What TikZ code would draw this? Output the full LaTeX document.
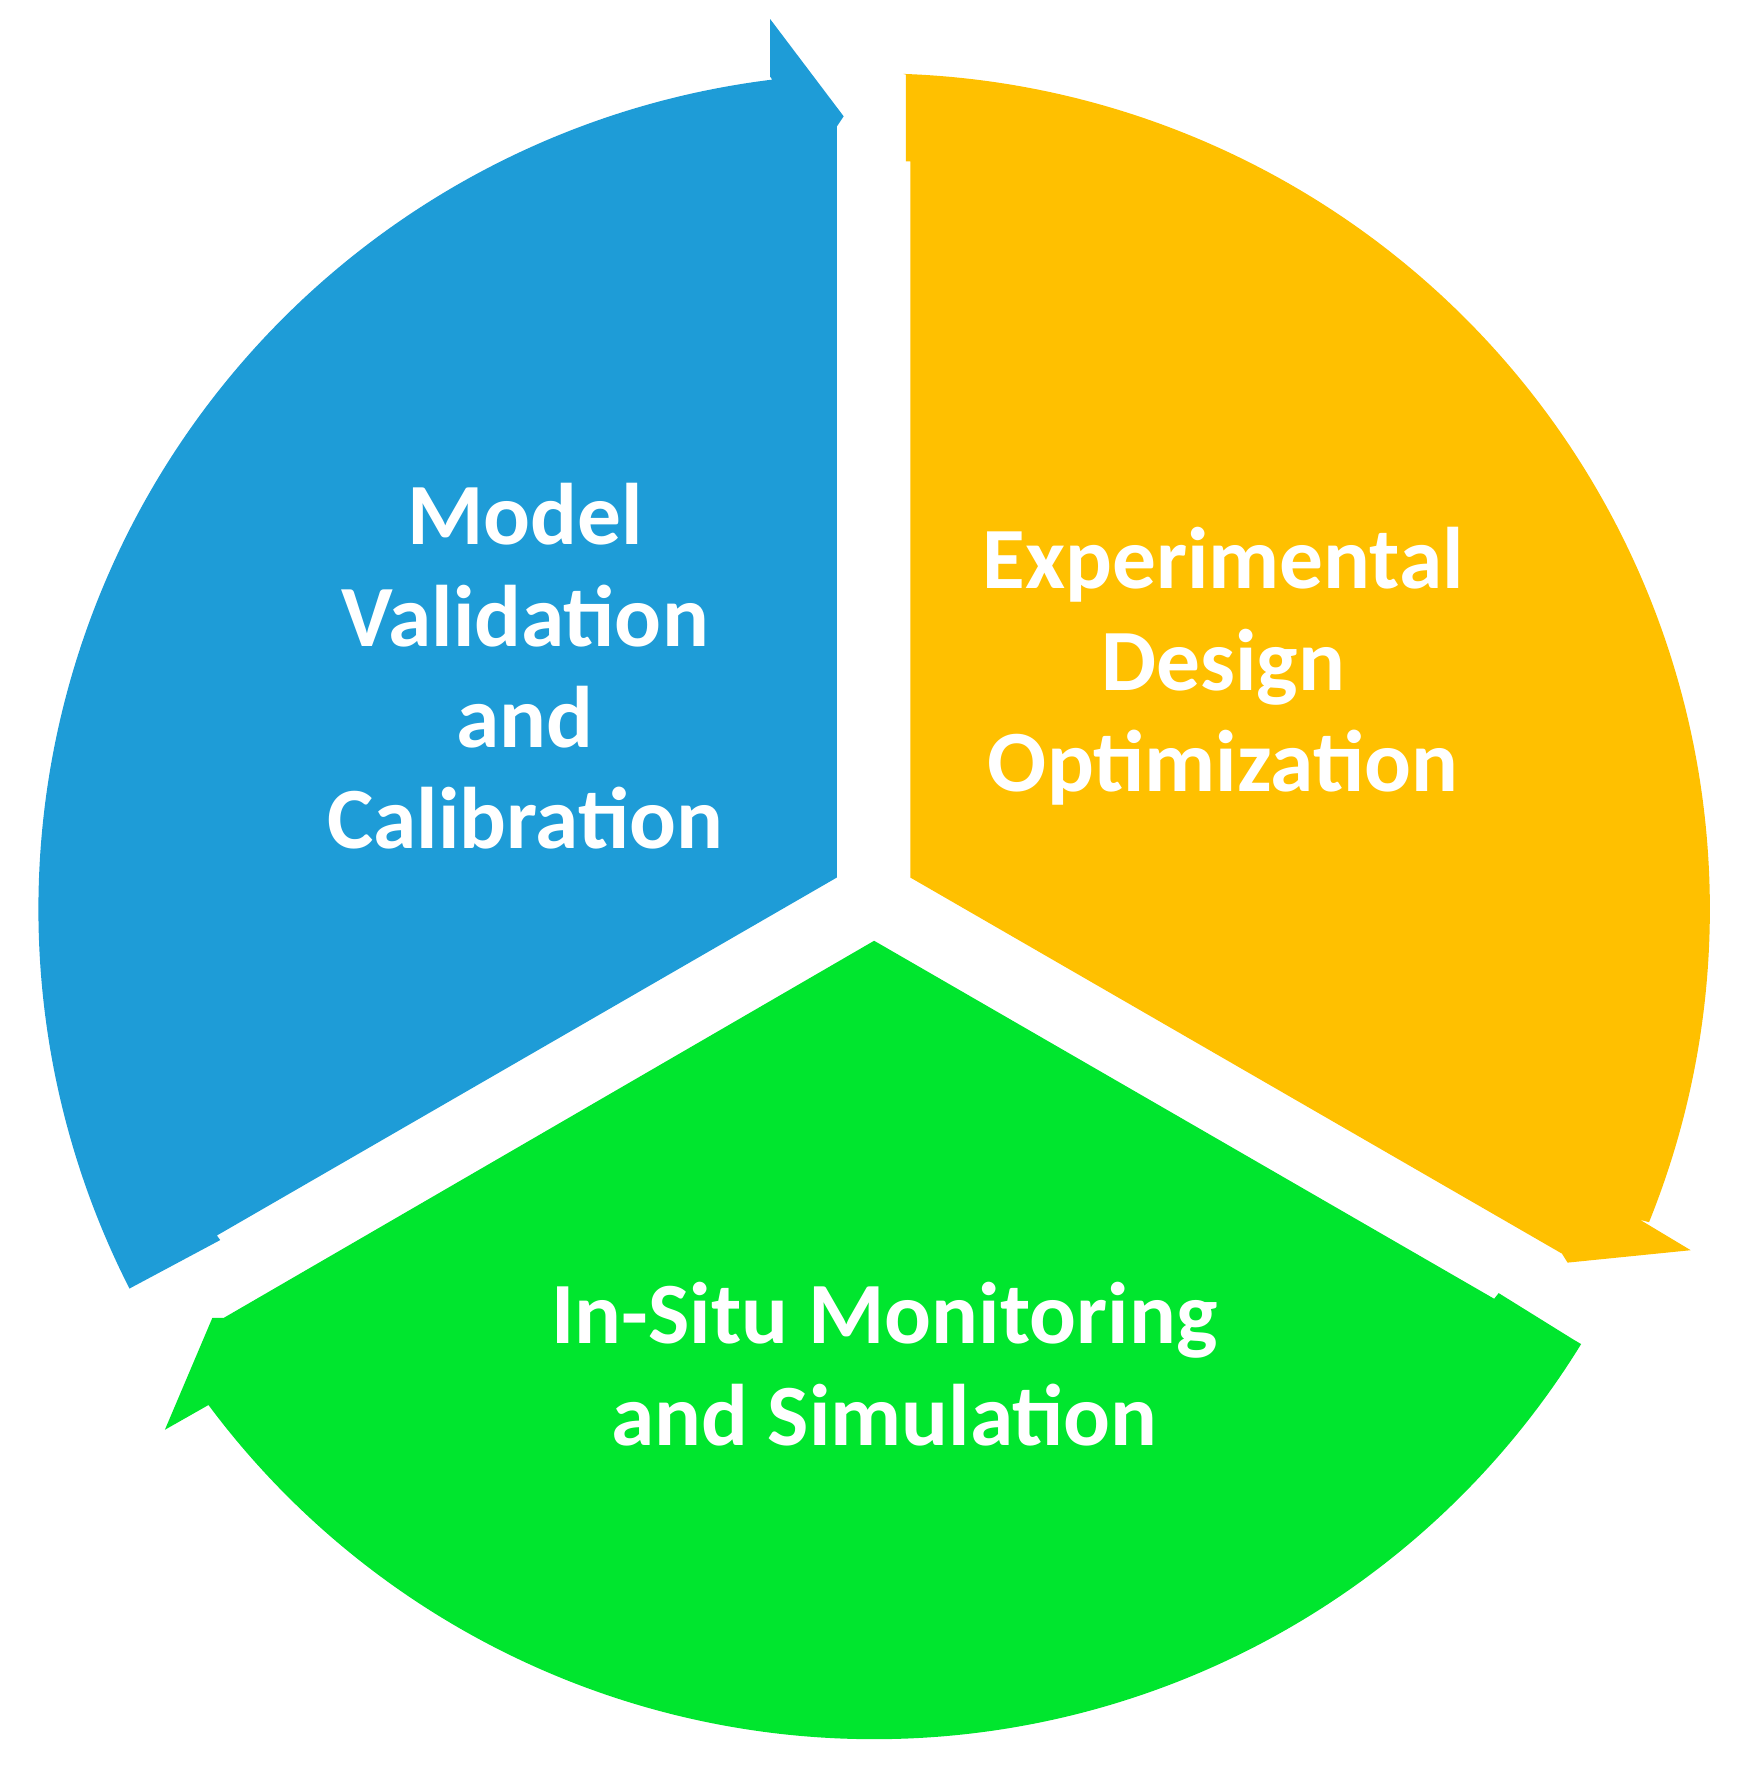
\documentclass[tikz,border=0pt]{standalone}
\usepackage{fontspec}
\setmainfont{Carlito}
\usetikzlibrary{calc}
\definecolor{cblue}{HTML}{1E9CD7}
\definecolor{cyel}{HTML}{FFC000}
\definecolor{cgreen}{HTML}{00E62E}
\begin{document}
\begin{tikzpicture}[x=0.01cm,y=-0.01cm,
  lbl/.style={text=white,font=\fontsize{22}{25.5}\selectfont\bfseries,align=center}]
\useasboundingbox (0,0) rectangle (1550,1577);
\coordinate (c) at (774,805);
% blue
\fill[cblue] (741,777) -- (741,112) -- (747,103) -- (682,17) -- (682,68)
  -- ($(c)+(-97:740)$) arc[start angle=-97,end angle=-207,radius=740]
  -- (195,1098) -- (192,1094) -- cycle;
% yellow
\fill[cyel] (806,777) -- (806,143) -- (802,143) -- (802,66)
  -- ($(c)+(-88:740)$) arc[start angle=-88,end angle=22,radius=740]
  -- (1452,1080) -- (1497,1107) -- (1388,1118) -- (1383,1110) -- cycle;
% green
\fill[cgreen] (774,833) -- (1323,1150) -- (1327,1145) -- (1393,1186)
  -- ($(c)+(31.6:735)$) arc[start angle=31.6,end angle=143.3,radius=735]
  -- (190,1241) -- (146,1266) -- (188,1167) -- (198,1167) -- cycle;
\node[lbl] (mv) at (465,590) {Model\\Validation\\and\\Calibration};
\node[lbl] (ed) at (1083,590) {Experimental\\Design\\Optimization};
\node[lbl] (is) at (783,1208) {In-Situ Monitoring\\and Simulation};
\end{tikzpicture}
\end{document}
